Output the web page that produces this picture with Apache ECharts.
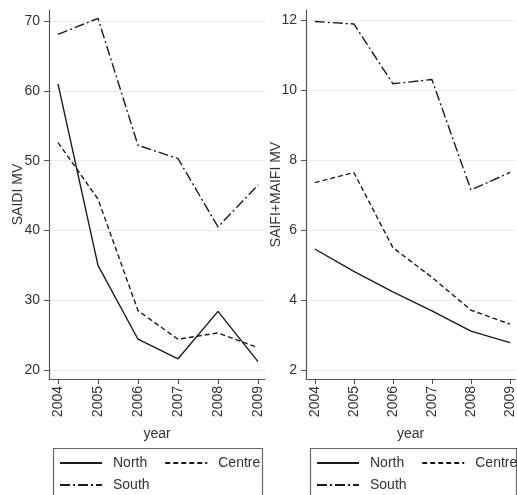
<!DOCTYPE html>
<html>
<head>
<meta charset="utf-8">
<script src="https://cdn.jsdelivr.net/npm/echarts@6/dist/echarts.min.js"></script>
<style>
  html, body { margin: 0; padding: 0; background: #fff; }
  #chart { width: 517px; height: 495px; }
</style>
</head>
<body>
<div id="chart"></div>
<script>
var years = [2004, 2005, 2006, 2007, 2008, 2009];
var seriesNames = ['North', 'Centre', 'South'];

var saidiNorth = [61.0, 35.0, 24.4, 21.6, 28.4, 21.2];
var saidiCentre = [52.6, 44.5, 28.5, 24.4, 25.3, 23.2];
var saidiSouth = [68.1, 70.4, 52.2, 50.3, 40.5, 46.5];

var saifiNorth = [5.46, 4.82, 4.23, 3.69, 3.11, 2.78];
var saifiCentre = [7.36, 7.65, 5.5, 4.65, 3.71, 3.31];
var saifiSouth = [11.97, 11.9, 10.19, 10.31, 7.15, 7.65];

var saidiTicks = [20, 30, 40, 50, 60, 70];
var saifiTicks = [2, 4, 6, 8, 10, 12];

var font = '"Liberation Sans", Arial, sans-serif';
var lineColor = '#1c1c1c';
var dashes = {
    North: 'solid',
    Centre: [5, 3],
    South: [10, 3, 2, 3]
};

function pairs(vals) {
    return years.map(function (y, i) { return [y, vals[i]]; });
}

function makeSeries(name, vals, idx) {
    return {
        name: name,
        type: 'line',
        xAxisIndex: idx,
        yAxisIndex: idx,
        symbol: 'none',
        silent: true,
        data: pairs(vals),
        lineStyle: { color: lineColor, width: 1.4, type: dashes[name] },
        itemStyle: { color: lineColor }
    };
}

function xAxisFor(idx, max) {
    return {
        type: 'value',
        gridIndex: idx,
        min: 2003.775,
        max: max,
        name: 'year',
        nameLocation: 'middle',
        nameGap: 48,
        nameMoveOverlap: false,
        nameTextStyle: { fontFamily: font, fontSize: 14, color: '#333' },
        axisLine: { onZero: false, lineStyle: { color: '#555', width: 1.2 } },
        axisTick: { show: true, length: 5, customValues: years, lineStyle: { color: '#555' } },
        axisLabel: {
            customValues: years, rotate: 90, margin: 7,
            fontFamily: font, fontSize: 14, color: '#333',
            formatter: function (v) { return String(v); }
        },
        splitLine: { show: false }
    };
}

function yAxisFor(idx, min, max, ticks, name, gap) {
    return {
        type: 'value',
        gridIndex: idx,
        min: min,
        max: max,
        name: name,
        nameLocation: 'middle',
        nameRotate: 90,
        nameGap: gap,
        nameMoveOverlap: false,
        nameTextStyle: { fontFamily: font, fontSize: 14, color: '#333' },
        axisLine: { show: true, lineStyle: { color: '#555', width: 1.2 } },
        axisTick: { show: true, length: 5, customValues: ticks, lineStyle: { color: '#555' } },
        axisLabel: { customValues: ticks, margin: 9, fontFamily: font, fontSize: 14, color: '#333' },
        splitLine: { show: true, lineStyle: { color: '#ececec', width: 1 } }
    };
}

function legendFor(left, top, names) {
    return {
        left: left,
        top: top,
        width: 300,
        padding: 0,
        orient: 'horizontal',
        data: names,
        itemWidth: 42,
        itemHeight: 12,
        itemGap: 17,
        selectedMode: false,
        itemStyle: { color: 'rgba(0,0,0,0)', borderWidth: 0, opacity: 0 },
        textStyle: { fontFamily: font, fontSize: 14, color: '#333', padding: [0, 0, 0, 6] }
    };
}

var chartDom = document.getElementById('chart');
var myChart = echarts.init(chartDom, null, { renderer: 'canvas' });

var option = {
    backgroundColor: '#fff',
    animation: false,
    grid: [
        { left: 49, top: 10, width: 216, bottom: 116 },
        { left: 306, top: 10, right: 0, bottom: 116 }
    ],
    xAxis: [xAxisFor(0, 2009.175), xAxisFor(1, 2009.13)],
    yAxis: [
        yAxisFor(0, 18.7, 71.6, saidiTicks, 'SAIDI MV', 24),
        yAxisFor(1, 1.74, 12.3, saifiTicks, 'SAIFI+MAIFI MV', 23)
    ],
    legend: [
        legendFor(59, 456, ['North', 'Centre']),
        legendFor(59, 478, ['South']),
        legendFor(316, 456, ['North', 'Centre']),
        legendFor(316, 478, ['South'])
    ],
    graphic: [
        { type: 'rect', z: 0, shape: { x: 53.5, y: 448.5, width: 209, height: 60 },
          style: { fill: 'none', stroke: '#666', lineWidth: 1.2 } },
        { type: 'rect', z: 0, shape: { x: 310.5, y: 448.5, width: 206, height: 60 },
          style: { fill: 'none', stroke: '#666', lineWidth: 1.2 } }
    ],
    series: [
        makeSeries('North', saidiNorth, 0),
        makeSeries('Centre', saidiCentre, 0),
        makeSeries('South', saidiSouth, 0),
        makeSeries('North', saifiNorth, 1),
        makeSeries('Centre', saifiCentre, 1),
        makeSeries('South', saifiSouth, 1)
    ]
};

option && myChart.setOption(option);
</script>
</body>
</html>
